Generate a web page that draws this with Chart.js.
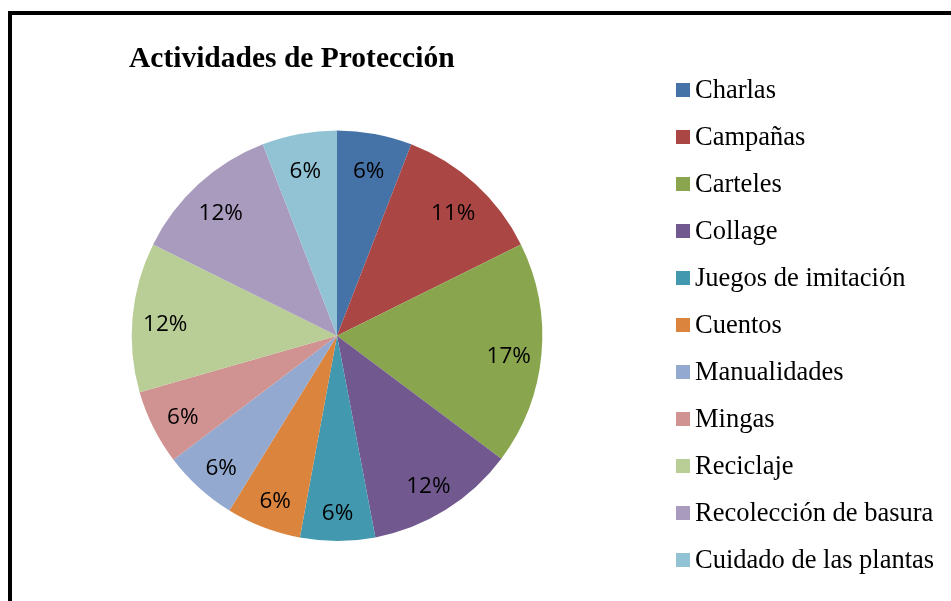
<!DOCTYPE html>
<html>
<head>
<meta charset="utf-8">
<script src="https://cdn.jsdelivr.net/npm/chart.js@4.4.1/dist/chart.umd.min.js"></script>
<style>
  html, body { margin: 0; padding: 0; background: #fff; overflow: hidden; }
  #wrap { position: relative; width: 951px; height: 601px; }
  #frame { position: absolute; left: 8px; top: 11px; width: 2000px; height: 2000px; border: 4px solid #000; }
  canvas { position: absolute; left: 0; top: 0; }
</style>
</head>
<body>
<div id="wrap">
  <div id="frame"></div>
  <canvas id="pieChart" width="951" height="601"></canvas>
</div>
<script>
// datos del grafico
const categorias = ['Charlas', 'Campañas', 'Carteles', 'Collage', 'Juegos de imitación', 'Cuentos',
    'Manualidades', 'Mingas', 'Reciclaje', 'Recolección de basura', 'Cuidado de las plantas'];
const valores = [5.9, 11.8, 17.6, 11.8, 5.9, 5.9, 5.9, 5.9, 11.8, 11.8, 5.9];
// texto de las etiquetas tal como aparece
const etiquetas = ['6%', '11%', '17%', '12%', '6%', '6%', '6%', '6%', '12%', '12%', '6%'];
const colores = ['#4572A7', '#AA4643', '#89A54E', '#71588F', '#4198AF', '#DB843D',
    '#93A9CF', '#D19392', '#B9CD96', '#A99BBD', '#92C3D5'];

// etiquetas de porcentaje dentro de cada sector
const etiquetasPlugin = {
    id: 'etiquetas',
    afterDatasetsDraw(chart) {
        const ctx = chart.ctx;
        const meta = chart.getDatasetMeta(0);
        ctx.save();
        ctx.font = '22.5px "Open Sans"';
        ctx.fillStyle = '#000';
        ctx.textAlign = 'center';
        ctx.textBaseline = 'middle';
        meta.data.forEach((arc, i) => {
            const p = arc.getProps(['x', 'y', 'startAngle', 'endAngle', 'outerRadius']);
            const mid = (p.startAngle + p.endAngle) / 2;
            const r = p.outerRadius * 0.84;
            ctx.fillText(etiquetas[i], p.x + Math.cos(mid) * r, p.y + Math.sin(mid) * r + 5);
        });
        ctx.restore();
    }
};

// leyenda a la derecha
const leyendaPlugin = {
    id: 'leyenda',
    afterDraw(chart) {
        const ctx = chart.ctx;
        ctx.save();
        ctx.font = '26.5px "Liberation Serif"';
        ctx.textBaseline = 'middle';
        ctx.textAlign = 'left';
        chart.data.labels.forEach((lbl, i) => {
            const y = 90 + i * 47;
            ctx.fillStyle = colores[i];
            ctx.fillRect(676, y - 7, 14, 14);
            ctx.fillStyle = '#000';
            ctx.fillText(lbl, 695, y + 1);
        });
        ctx.restore();
    }
};

const ctx = document.getElementById('pieChart').getContext('2d');
new Chart(ctx, {
    type: 'pie',
    data: {
        labels: categorias,
        datasets: [{
            data: valores,
            backgroundColor: colores,
            borderWidth: 0
        }]
    },
    options: {
        responsive: false,
        animation: false,
        layout: { padding: { left: 129, right: 406, top: 0, bottom: 60 } },
        plugins: {
            legend: { display: false },
            tooltip: { enabled: false },
            title: {
                display: true,
                text: 'Actividades de Protección',
                align: 'start',
                color: '#000',
                font: { family: '"Liberation Serif"', size: 29.5, weight: 'bold', lineHeight: 1.2 },
                padding: { top: 42, bottom: 53 }
            }
        }
    },
    plugins: [etiquetasPlugin, leyendaPlugin]
});
</script>
</body>
</html>
